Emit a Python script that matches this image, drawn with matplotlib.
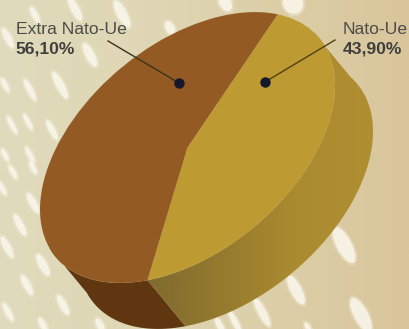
import numpy as np
import matplotlib
matplotlib.use('Agg')
import matplotlib.pyplot as plt
from matplotlib.patches import Ellipse, Polygon
from matplotlib.transforms import Affine2D
from matplotlib.colors import LinearSegmentedColormap

labels = ['Extra Nato-Ue', 'Nato-Ue']
values = [56.10, 43.90]
value_labels = ['56,10%', '43,90%']

# background dabs: x, y, long axis, short axis
dabs_x = [75, 122, 35, 170, 90, 60, 30, 8, 5, 12, 28, 52, 30, 5, 13, 33, 2, 33, 20, 7, 43, 27, 63, 8, 43, 100,
          344, 296, 262, 361, 235, 220, 308, 225, 293]
dabs_y = [9, 14, 15, 28, 55, 85, 90, 38, 85, 125, 122, 130, 155, 155, 172, 168, 188, 203, 225, 247, 265, 285,
          305, 312, 325, 325, 245, 290, 312, 315, 322, 326, 328, 2, 3]
dabs_l = [26, 30, 18, 14, 26, 30, 24, 22, 16, 20, 18, 22, 18, 14, 16, 14, 16, 22, 24, 24, 24, 22, 22, 20, 16, 14,
          40, 32, 32, 38, 26, 18, 12, 20, 22]
dabs_w = [8, 10, 6, 9, 9, 8, 6, 7, 5, 5, 5, 6, 5, 5, 5, 5, 5, 7, 7, 7, 8, 7, 7, 6, 6, 7,
          15, 11, 8, 14, 6, 6, 5, 12, 20]

fig = plt.figure(figsize=(4.09, 3.29), dpi=100)
ax = fig.add_axes([0, 0, 1, 1])

# disc geometry in pixels, y pointing down
cx, cy = 187.5, 147.5
shift = np.array([38, 46])
disc = Affine2D(np.array([[147.5, 0, cx], [-62, -120.4, cy], [0, 0, 1]], dtype=float))
to_data = disc + ax.transData

# the pie on a unit circle, tilted afterwards; Nato-Ue runs clockwise from the start angle
start = 52.3
wedges, _ = ax.pie(values[::-1], startangle=start, counterclock=False, radius=1,
                   colors=['#bd9a32', '#935a24'], wedgeprops={'linewidth': 0}, frame=True)
for w in wedges:
    w.set_transform(to_data)
    w.set_zorder(3)
    w.set_clip_on(False)

# background
bg = LinearSegmentedColormap.from_list('bg', ['#e0dbbc', '#dfd7b5', '#dccfa8', '#d9c59b'])
ax.imshow(np.linspace(0, 1, 256)[None, :], extent=(0, 409, 329, 0), cmap=bg, aspect='auto', zorder=0)
for x, y, l, w in zip(dabs_x, dabs_y, dabs_l, dabs_w):
    # soft halo under each dab
    ax.add_patch(Ellipse((x, y), l + 5, w + 4, angle=62, facecolor='#f4f0e0', edgecolor='none', alpha=0.35, zorder=1))
    ax.add_patch(Ellipse((x, y), l, w, angle=62, facecolor='#fbf8ee', edgecolor='none', alpha=0.8, zorder=1))


def side_polygon(t0, t1):
    t = np.radians(np.linspace(t0, t1, 120))
    rim = disc.transform(np.column_stack([np.cos(t), np.sin(t)]))
    return np.vstack([rim, (rim + shift)[::-1]])


# rim of the disc: dark brown part and shaded gold part
t_split = start - values[1] * 3.6 + 360
ax.add_patch(Polygon(side_polygon(200, t_split), closed=True, facecolor='#5f3610', edgecolor='none', zorder=2))
gold_side = Polygon(side_polygon(t_split, 392), closed=True, facecolor='none', edgecolor='none', zorder=2)
ax.add_patch(gold_side)
rim_cmap = LinearSegmentedColormap.from_list('rim', ['#7d682e', '#947a2e', '#ab8b30', '#b08f32'])
rim_img = ax.imshow(np.linspace(0, 1, 256)[None, :], extent=(140, 375, 329, 0), cmap=rim_cmap, aspect='auto', zorder=2)
rim_img.set_clip_path(gold_side)

# leader lines and dots
ax.plot([108, 179], [41, 83], color='#3d3418', lw=1, zorder=4)
ax.plot([335, 265], [40, 82], color='#4f3f12', lw=1, zorder=4)
ax.plot([179, 265], [83, 82], ls='none', marker='o', ms=7.5, color='#14182a', mew=0, zorder=5)

# labels
font = ['Liberation Sans', 'DejaVu Sans']
ax.text(15.5, 30, labels[0], fontsize=12.6, color='#4c4c4a', family=font, va='center', ha='left', zorder=6)
ax.text(15.5, 49, value_labels[0], fontsize=12.6, color='#3f3f3d', family=font, weight='bold', va='center', ha='left', zorder=6)
ax.text(343, 30, labels[1], fontsize=12.6, color='#4c4c4a', family=font, va='center', ha='left', zorder=6)
ax.text(343, 49, value_labels[1], fontsize=12.6, color='#3f3f3d', family=font, weight='bold', va='center', ha='left', zorder=6)

ax.set_xlim(0, 409)
ax.set_ylim(329, 0)
ax.set_aspect('auto')
ax.axis('off')

fig.savefig('out.png', dpi=100)
